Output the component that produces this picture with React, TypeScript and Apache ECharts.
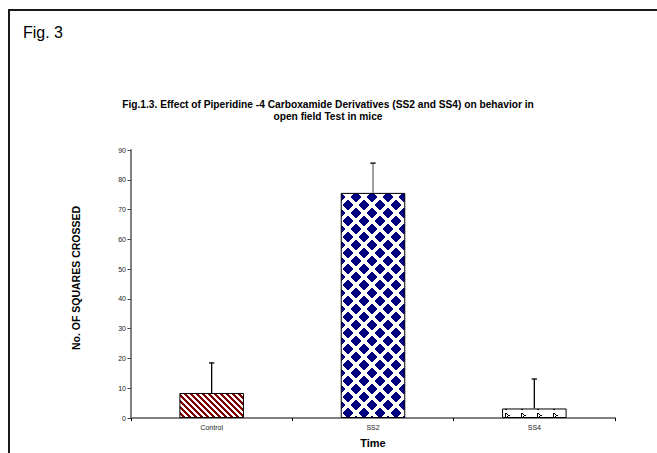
import React, { useEffect, useRef } from "react";
import * as echarts from "echarts";

const categories = ["Control", "SS2", "SS4"];
const means = [8.4, 75.6, 3.2];
const errors = [10.1, 10.0, 9.9];
const yMin = 0;
const yMax = 90;
const yStep = 10;
const titleText =
  "Fig.1.3. Effect of Piperidine -4 Carboxamide Derivatives (SS2 and SS4) on behavior in\nopen field Test in mice";
const figLabel = "Fig. 3";
const xName = "Time";
const yName = "No. OF SQUARES CROSSED";

function tile(w: number, h: number, fn: (ctx: CanvasRenderingContext2D) => void) {
  const c = document.createElement("canvas");
  c.width = w;
  c.height = h;
  const ctx = c.getContext("2d")!;
  ctx.fillStyle = "#ffffff";
  ctx.fillRect(0, 0, w, h);
  fn(ctx);
  return c;
}

function stripeTile() {
  return tile(6, 6, (ctx) => {
    ctx.fillStyle = "#800000";
    for (let y = 0; y < 6; y++)
      for (let x = 0; x < 6; x++)
        if ((((x - y) % 6) + 6) % 6 < 3) ctx.fillRect(x, y, 1, 1);
  });
}

function diamondTile() {
  return tile(16, 16, (ctx) => {
    ctx.fillStyle = "#000080";
    const centers = [
      [4, 5],
      [12, 13],
    ];
    for (let y = 0; y < 16; y++)
      for (let x = 0; x < 16; x++) {
        let on = false;
        for (const [cx, cy] of centers) {
          for (const ox of [-16, 0, 16])
            for (const oy of [-16, 0, 16]) {
              const dx = Math.abs(x + 0.5 - (cx + ox));
              const dy = Math.abs(y + 0.5 - (cy + oy));
              if (dx + dy <= 5.0) on = true;
            }
        }
        if (on) ctx.fillRect(x, y, 1, 1);
      }
  });
}

function arrowTile() {
  return tile(16, 8, (ctx) => {
    ctx.fillStyle = "#000000";
    const cx = 12;
    const cy = 7;
    const pts = [
      [-3, -2],
      [-2, -2],
      [-1, -1],
      [0, 0],
      [1, 0],
      [-1, 1],
      [-3, 2],
      [-2, 2],
      [-3, -1],
      [-3, 0],
      [-3, 1],
    ];
    for (const [dx, dy] of pts) {
      const x = (cx + dx + 16) % 16;
      const y = (cy + dy + 8) % 8;
      ctx.fillRect(x, y, 1, 1);
    }
  });
}

export default function App() {
  const ref = useRef<HTMLDivElement>(null);
  useEffect(() => {
    if (!ref.current) return;
    const chart = echarts.init(ref.current, undefined, { renderer: "svg" });
    const patterns = [stripeTile(), diamondTile(), arrowTile()];
    const errColors = ["#000000", "#6e6e6e", "#000000"];
    const font = "Arial, 'Liberation Sans', sans-serif";
    chart.setOption({
      animation: false,
      backgroundColor: "#ffffff",
      textStyle: { fontFamily: font },
      grid: { left: 131, right: 42, top: 150, bottom: 32.5 },
      xAxis: {
        type: "category",
        data: categories,
        name: xName,
        nameLocation: "middle",
        nameGap: 19,
        nameTextStyle: { fontSize: 11, fontWeight: "bold", color: "#000", fontFamily: font },
        axisLine: { lineStyle: { color: "#808080", width: 2 } },
        axisTick: { show: true, length: 3, lineStyle: { color: "#000", width: 1 } },
        axisLabel: { fontSize: 7, color: "#222", margin: 6, fontFamily: font },
      },
      yAxis: {
        type: "value",
        min: yMin,
        max: yMax,
        interval: yStep,
        splitLine: { show: false },
        axisLine: { show: true, lineStyle: { color: "#808080", width: 2 } },
        axisTick: { show: true, length: 3.5, lineStyle: { color: "#444", width: 1 } },
        axisLabel: { fontSize: 7, color: "#222", margin: 5, fontFamily: font },
      },
      series: [
        {
          type: "bar",
          barWidth: "40%",
          data: means.map((v, i) => ({
            value: v,
            itemStyle: {
              color: { image: patterns[i], repeat: "repeat" },
              borderColor: "#000",
              borderWidth: 1,
            },
          })),
        },
        {
          type: "custom",
          z: 5,
          encode: { x: 0, y: 2 },
          data: means.map((v, i) => [i, v, v + errors[i]]),
          renderItem: (params: any, api: any) => {
            const idx = api.value(0);
            const p0 = api.coord([idx, api.value(1)]);
            const p1 = api.coord([idx, api.value(2)]);
            return {
              type: "group",
              children: [
                {
                  type: "line",
                  shape: { x1: p0[0], y1: p0[1], x2: p1[0], y2: p1[1] },
                  style: { stroke: errColors[idx], lineWidth: 1.3 },
                },
                {
                  type: "line",
                  shape: { x1: p1[0] - 2.7, y1: p1[1], x2: p1[0] + 2.7, y2: p1[1] },
                  style: { stroke: "#000", lineWidth: 1.3 },
                },
              ],
            };
          },
        },
      ],
      graphic: [
        {
          type: "line",
          shape: { x1: 8, y1: 10, x2: 657, y2: 10 },
          style: { stroke: "#1a1a1a", lineWidth: 2 },
        },
        {
          type: "line",
          shape: { x1: 9, y1: 10, x2: 9, y2: 453 },
          style: { stroke: "#1a1a1a", lineWidth: 2 },
        },
        {
          type: "text",
          x: 23,
          y: 32.5,
          style: {
            text: figLabel,
            fontSize: 16,
            fontFamily: font,
            fill: "#000",
            textVerticalAlign: "middle",
          },
        },
        {
          type: "text",
          x: 328,
          y: 98,
          style: {
            text: titleText,
            fontSize: 10.2,
            fontWeight: "bold",
            fontFamily: font,
            lineHeight: 12,
            fill: "#000",
            textAlign: "center",
            textVerticalAlign: "top",
          },
        },
        {
          type: "text",
          x: 76,
          y: 278,
          rotation: Math.PI / 2,
          style: {
            text: yName,
            fontSize: 10.5,
            fontWeight: "bold",
            fontFamily: font,
            fill: "#000",
            textAlign: "center",
            textVerticalAlign: "middle",
          },
        },
      ],
    });
    return () => chart.dispose();
  }, []);
  return (
    <div
      ref={ref}
      style={{ position: "absolute", left: 0, top: 0, width: 657, height: 453 }}
    />
  );
}
